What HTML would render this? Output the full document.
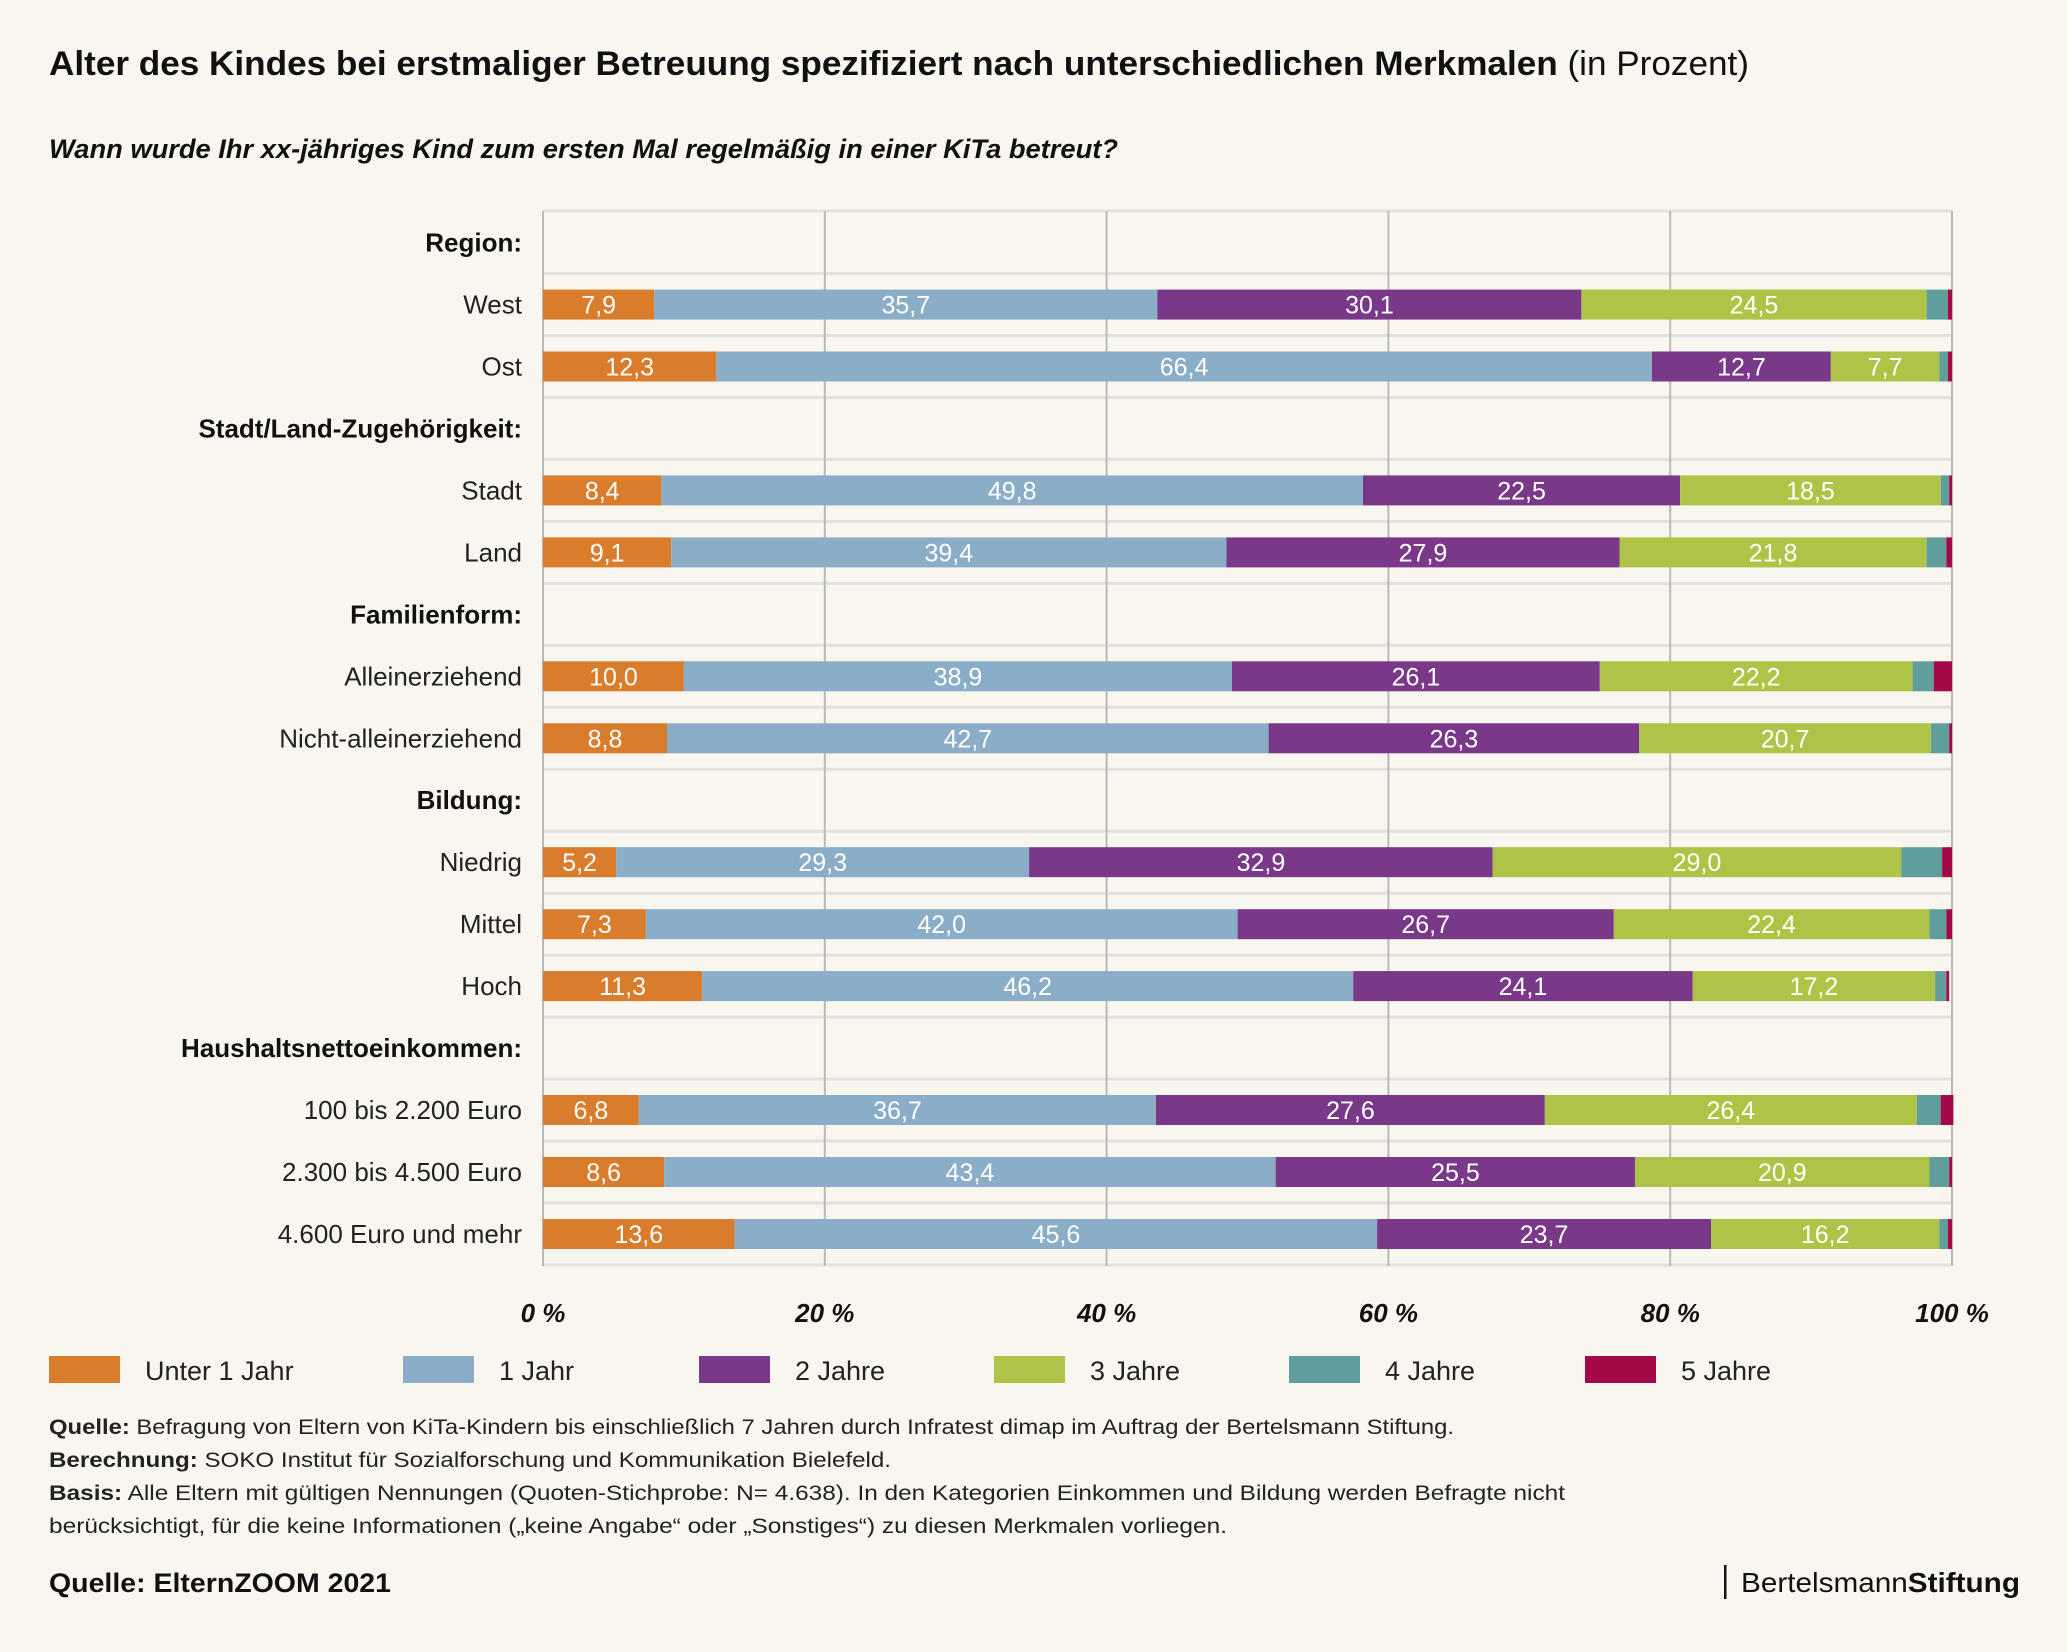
<!DOCTYPE html>
<html><head><meta charset="utf-8"><style>
html,body{margin:0;padding:0;background:#f8f6ef;}
svg{display:block;font-family:"Liberation Sans",sans-serif;}
.rl{font-size:26px;fill:#222;text-anchor:end;}
.hd{font-size:26px;fill:#111;font-weight:bold;text-anchor:end;}
.v{font-size:25px;fill:#fff;text-anchor:middle;}
.tk{font-size:26px;font-weight:bold;font-style:italic;fill:#111;text-anchor:middle;}
.lg{font-size:27px;fill:#222;}
.fn{font-size:21px;fill:#222;}
</style></head><body>
<svg width="2067" height="1652" viewBox="0 0 2067 1652" xmlns="http://www.w3.org/2000/svg">
<rect width="2067" height="1652" fill="#f8f6ef"/>
<text x="49" y="75" font-size="34" fill="#111" textLength="1700" lengthAdjust="spacingAndGlyphs"><tspan font-weight="bold">Alter des Kindes bei erstmaliger Betreuung spezifiziert nach unterschiedlichen Merkmalen</tspan> (in Prozent)</text>
<text x="49" y="158" font-size="27" font-weight="bold" font-style="italic" fill="#111" textLength="1069" lengthAdjust="spacingAndGlyphs">Wann wurde Ihr xx-jähriges Kind zum ersten Mal regelmäßig in einer KiTa betreut?</text>

<g stroke="#e2e1dc" stroke-width="3">
<line x1="543" x2="1952" y1="211" y2="211"/>
<line x1="543" x2="1952" y1="273.6" y2="273.6"/><line x1="543" x2="1952" y1="335.5" y2="335.5"/>
<line x1="543" x2="1952" y1="397.5" y2="397.5"/><line x1="543" x2="1952" y1="459.4" y2="459.4"/>
<line x1="543" x2="1952" y1="521.4" y2="521.4"/><line x1="543" x2="1952" y1="583.4" y2="583.4"/>
<line x1="543" x2="1952" y1="645.3" y2="645.3"/><line x1="543" x2="1952" y1="707.3" y2="707.3"/>
<line x1="543" x2="1952" y1="769.2" y2="769.2"/><line x1="543" x2="1952" y1="831.2" y2="831.2"/>
<line x1="543" x2="1952" y1="893.2" y2="893.2"/><line x1="543" x2="1952" y1="955.1" y2="955.1"/>
<line x1="543" x2="1952" y1="1017.1" y2="1017.1"/><line x1="543" x2="1952" y1="1079" y2="1079"/>
<line x1="543" x2="1952" y1="1141" y2="1141"/><line x1="543" x2="1952" y1="1203" y2="1203"/>
<line x1="543" x2="1952" y1="1265" y2="1265"/>
</g>
<g stroke="#b9b9b9" stroke-width="2">
<line x1="543" x2="543" y1="211" y2="1266"/><line x1="824.8" x2="824.8" y1="211" y2="1266"/>
<line x1="1106.6" x2="1106.6" y1="211" y2="1266"/><line x1="1388.4" x2="1388.4" y1="211" y2="1266"/>
<line x1="1670.2" x2="1670.2" y1="211" y2="1266"/><line x1="1952" x2="1952" y1="211" y2="1266"/>
</g>

<!-- row labels -->
<text class="hd" x="522" y="251.6">Region:</text>
<text class="rl" x="522" y="313.6">West</text>
<text class="rl" x="522" y="375.5">Ost</text>
<text class="hd" x="522" y="437.5">Stadt/Land-Zugehörigkeit:</text>
<text class="rl" x="522" y="499.4">Stadt</text>
<text class="rl" x="522" y="561.4">Land</text>
<text class="hd" x="522" y="623.4">Familienform:</text>
<text class="rl" x="522" y="685.3">Alleinerziehend</text>
<text class="rl" x="522" y="747.3">Nicht-alleinerziehend</text>
<text class="hd" x="522" y="809.2">Bildung:</text>
<text class="rl" x="522" y="871.2">Niedrig</text>
<text class="rl" x="522" y="933.2">Mittel</text>
<text class="rl" x="522" y="995.1">Hoch</text>
<text class="hd" x="522" y="1057.1">Haushaltsnettoeinkommen:</text>
<text class="rl" x="522" y="1119">100 bis 2.200 Euro</text>
<text class="rl" x="522" y="1181">2.300 bis 4.500 Euro</text>
<text class="rl" x="522" y="1243">4.600 Euro und mehr</text>

<!-- bars -->
<g>
<rect x="543" y="289.6" width="111.3" height="30" fill="#d97c2b"/><rect x="654.3" y="289.6" width="503" height="30" fill="#8aaec8"/><rect x="1157.3" y="289.6" width="424.1" height="30" fill="#7a3889"/><rect x="1581.4" y="289.6" width="345.2" height="30" fill="#afc447"/><rect x="1926.6" y="289.6" width="21.2" height="30" fill="#5f9e9d"/><rect x="1947.8" y="289.6" width="4.2" height="30" fill="#a50a48"/>
<text class="v" x="598.7" y="313.6">7,9</text><text class="v" x="905.8" y="313.6">35,7</text><text class="v" x="1369.4" y="313.6">30,1</text><text class="v" x="1754" y="313.6">24,5</text>

<rect x="543" y="351.5" width="173.3" height="30" fill="#d97c2b"/><rect x="716.3" y="351.5" width="935.6" height="30" fill="#8aaec8"/><rect x="1651.9" y="351.5" width="178.9" height="30" fill="#7a3889"/><rect x="1830.8" y="351.5" width="108.5" height="30" fill="#afc447"/><rect x="1939.3" y="351.5" width="8.5" height="30" fill="#5f9e9d"/><rect x="1947.8" y="351.5" width="4.2" height="30" fill="#a50a48"/>
<text class="v" x="629.7" y="375.5">12,3</text><text class="v" x="1184.1" y="375.5">66,4</text><text class="v" x="1741.4" y="375.5">12,7</text><text class="v" x="1885.1" y="375.5">7,7</text>

<rect x="543" y="475.4" width="118.4" height="30" fill="#d97c2b"/><rect x="661.4" y="475.4" width="701.6" height="30" fill="#8aaec8"/><rect x="1363" y="475.4" width="317.1" height="30" fill="#7a3889"/><rect x="1680.1" y="475.4" width="260.7" height="30" fill="#afc447"/><rect x="1940.8" y="475.4" width="8.4" height="30" fill="#5f9e9d"/><rect x="1949.2" y="475.4" width="2.8" height="30" fill="#a50a48"/>
<text class="v" x="602.2" y="499.4">8,4</text><text class="v" x="1012.2" y="499.4">49,8</text><text class="v" x="1521.6" y="499.4">22,5</text><text class="v" x="1810.5" y="499.4">18,5</text>

<rect x="543" y="537.4" width="128.2" height="30" fill="#d97c2b"/><rect x="671.2" y="537.4" width="555.2" height="30" fill="#8aaec8"/><rect x="1226.4" y="537.4" width="393.1" height="30" fill="#7a3889"/><rect x="1619.5" y="537.4" width="307.1" height="30" fill="#afc447"/><rect x="1926.6" y="537.4" width="19.8" height="30" fill="#5f9e9d"/><rect x="1946.4" y="537.4" width="5.6" height="30" fill="#a50a48"/>
<text class="v" x="607.1" y="561.4">9,1</text><text class="v" x="948.8" y="561.4">39,4</text><text class="v" x="1423" y="561.4">27,9</text><text class="v" x="1773.1" y="561.4">21,8</text>

<rect x="543" y="661.3" width="140.9" height="30" fill="#d97c2b"/><rect x="683.9" y="661.3" width="548.1" height="30" fill="#8aaec8"/><rect x="1232" y="661.3" width="367.8" height="30" fill="#7a3889"/><rect x="1599.8" y="661.3" width="312.8" height="30" fill="#afc447"/><rect x="1912.6" y="661.3" width="21.1" height="30" fill="#5f9e9d"/><rect x="1933.7" y="661.3" width="18.3" height="30" fill="#a50a48"/>
<text class="v" x="613.5" y="685.3">10,0</text><text class="v" x="958" y="685.3">38,9</text><text class="v" x="1415.9" y="685.3">26,1</text><text class="v" x="1756.2" y="685.3">22,2</text>

<rect x="543" y="723.3" width="124" height="30" fill="#d97c2b"/><rect x="667" y="723.3" width="601.6" height="30" fill="#8aaec8"/><rect x="1268.6" y="723.3" width="370.6" height="30" fill="#7a3889"/><rect x="1639.2" y="723.3" width="291.7" height="30" fill="#afc447"/><rect x="1930.9" y="723.3" width="18.3" height="30" fill="#5f9e9d"/><rect x="1949.2" y="723.3" width="2.8" height="30" fill="#a50a48"/>
<text class="v" x="605" y="747.3">8,8</text><text class="v" x="967.8" y="747.3">42,7</text><text class="v" x="1453.9" y="747.3">26,3</text><text class="v" x="1785.1" y="747.3">20,7</text>

<rect x="543" y="847.2" width="73.3" height="30" fill="#d97c2b"/><rect x="616.3" y="847.2" width="412.8" height="30" fill="#8aaec8"/><rect x="1029.1" y="847.2" width="463.6" height="30" fill="#7a3889"/><rect x="1492.7" y="847.2" width="408.6" height="30" fill="#afc447"/><rect x="1901.3" y="847.2" width="40.8" height="30" fill="#5f9e9d"/><rect x="1942.1" y="847.2" width="9.9" height="30" fill="#a50a48"/>
<text class="v" x="579.6" y="871.2">5,2</text><text class="v" x="822.7" y="871.2">29,3</text><text class="v" x="1260.9" y="871.2">32,9</text><text class="v" x="1697" y="871.2">29,0</text>

<rect x="543" y="909.2" width="102.9" height="30" fill="#d97c2b"/><rect x="645.9" y="909.2" width="591.7" height="30" fill="#8aaec8"/><rect x="1237.6" y="909.2" width="376.2" height="30" fill="#7a3889"/><rect x="1613.8" y="909.2" width="315.6" height="30" fill="#afc447"/><rect x="1929.4" y="909.2" width="17" height="30" fill="#5f9e9d"/><rect x="1946.4" y="909.2" width="5.6" height="30" fill="#a50a48"/>
<text class="v" x="594.4" y="933.2">7,3</text><text class="v" x="941.7" y="933.2">42,0</text><text class="v" x="1425.7" y="933.2">26,7</text><text class="v" x="1771.6" y="933.2">22,4</text>

<rect x="543" y="971.1" width="159.2" height="30" fill="#d97c2b"/><rect x="702.2" y="971.1" width="651" height="30" fill="#8aaec8"/><rect x="1353.2" y="971.1" width="339.5" height="30" fill="#7a3889"/><rect x="1692.7" y="971.1" width="242.4" height="30" fill="#afc447"/><rect x="1935.1" y="971.1" width="11.2" height="30" fill="#5f9e9d"/><rect x="1946.3" y="971.1" width="2.9" height="30" fill="#a50a48"/>
<text class="v" x="622.6" y="995.1">11,3</text><text class="v" x="1027.7" y="995.1">46,2</text><text class="v" x="1522.9" y="995.1">24,1</text><text class="v" x="1813.9" y="995.1">17,2</text>

<rect x="543" y="1095" width="95.8" height="30" fill="#d97c2b"/><rect x="638.8" y="1095" width="517.1" height="30" fill="#8aaec8"/><rect x="1155.9" y="1095" width="388.9" height="30" fill="#7a3889"/><rect x="1544.8" y="1095" width="372" height="30" fill="#afc447"/><rect x="1916.8" y="1095" width="23.9" height="30" fill="#5f9e9d"/><rect x="1940.7" y="1095" width="12.7" height="30" fill="#a50a48"/>
<text class="v" x="590.9" y="1119">6,8</text><text class="v" x="897.4" y="1119">36,7</text><text class="v" x="1350.4" y="1119">27,6</text><text class="v" x="1730.8" y="1119">26,4</text>

<rect x="543" y="1157" width="121.2" height="30" fill="#d97c2b"/><rect x="664.2" y="1157" width="611.5" height="30" fill="#8aaec8"/><rect x="1275.7" y="1157" width="359.3" height="30" fill="#7a3889"/><rect x="1635" y="1157" width="294.5" height="30" fill="#afc447"/><rect x="1929.5" y="1157" width="19.7" height="30" fill="#5f9e9d"/><rect x="1949.2" y="1157" width="2.8" height="30" fill="#a50a48"/>
<text class="v" x="603.6" y="1181">8,6</text><text class="v" x="970" y="1181">43,4</text><text class="v" x="1455.4" y="1181">25,5</text><text class="v" x="1782.3" y="1181">20,9</text>

<rect x="543" y="1219" width="191.6" height="30" fill="#d97c2b"/><rect x="734.6" y="1219" width="642.5" height="30" fill="#8aaec8"/><rect x="1377.1" y="1219" width="333.9" height="30" fill="#7a3889"/><rect x="1711" y="1219" width="228.3" height="30" fill="#afc447"/><rect x="1939.3" y="1219" width="8.5" height="30" fill="#5f9e9d"/><rect x="1947.8" y="1219" width="4.2" height="30" fill="#a50a48"/>
<text class="v" x="638.8" y="1243">13,6</text><text class="v" x="1055.9" y="1243">45,6</text><text class="v" x="1544.1" y="1243">23,7</text><text class="v" x="1825.2" y="1243">16,2</text>
</g>

<text class="tk" x="543" y="1322">0 %</text><text class="tk" x="824.8" y="1322">20 %</text><text class="tk" x="1106.6" y="1322">40 %</text>
<text class="tk" x="1388.4" y="1322">60 %</text><text class="tk" x="1670.2" y="1322">80 %</text><text class="tk" x="1952" y="1322">100 %</text>

<rect x="49" y="1356" width="71" height="27" fill="#d97c2b"/><text class="lg" x="145" y="1380">Unter 1 Jahr</text>
<rect x="403" y="1356" width="71" height="27" fill="#8aaec8"/><text class="lg" x="499" y="1380">1 Jahr</text>
<rect x="699" y="1356" width="71" height="27" fill="#7a3889"/><text class="lg" x="795" y="1380">2 Jahre</text>
<rect x="994" y="1356" width="71" height="27" fill="#afc447"/><text class="lg" x="1090" y="1380">3 Jahre</text>
<rect x="1289" y="1356" width="71" height="27" fill="#5f9e9d"/><text class="lg" x="1385" y="1380">4 Jahre</text>
<rect x="1585" y="1356" width="71" height="27" fill="#a50a48"/><text class="lg" x="1681" y="1380">5 Jahre</text>

<text class="fn" x="49" y="1434" textLength="1405" lengthAdjust="spacingAndGlyphs"><tspan font-weight="bold">Quelle:</tspan> Befragung von Eltern von KiTa-Kindern bis einschließlich 7 Jahren durch Infratest dimap im Auftrag der Bertelsmann Stiftung.</text>
<text class="fn" x="49" y="1467" textLength="842" lengthAdjust="spacingAndGlyphs"><tspan font-weight="bold">Berechnung:</tspan> SOKO Institut für Sozialforschung und Kommunikation Bielefeld.</text>
<text class="fn" x="49" y="1500" textLength="1516" lengthAdjust="spacingAndGlyphs"><tspan font-weight="bold">Basis:</tspan> Alle Eltern mit gültigen Nennungen (Quoten-Stichprobe: N= 4.638). In den Kategorien Einkommen und Bildung werden Befragte nicht</text>
<text class="fn" x="49" y="1533" textLength="1178" lengthAdjust="spacingAndGlyphs">berücksichtigt, für die keine Informationen („keine Angabe“ oder „Sonstiges“) zu diesen Merkmalen vorliegen.</text>

<text x="49" y="1592" font-size="27" font-weight="bold" fill="#111" textLength="342" lengthAdjust="spacingAndGlyphs">Quelle: ElternZOOM 2021</text>
<rect x="1724" y="1565" width="2.5" height="34" fill="#111"/>
<text x="2020" y="1592" font-size="28" fill="#111" text-anchor="end" textLength="279" lengthAdjust="spacingAndGlyphs">Bertelsmann<tspan font-weight="bold">Stiftung</tspan></text>
</svg>
</body></html>
